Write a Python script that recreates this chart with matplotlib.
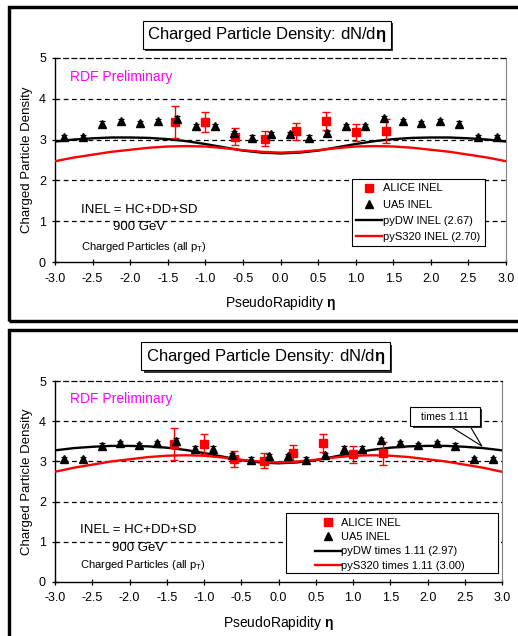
import matplotlib
matplotlib.use("Agg")
import matplotlib.pyplot as plt
import matplotlib.patheffects as pe
from matplotlib.patches import Rectangle

plt.rcParams['font.family'] = ['Liberation Sans', 'DejaVu Sans']
plt.rcParams['mathtext.fontset'] = 'custom'
plt.rcParams['mathtext.rm'] = 'Liberation Sans'
plt.rcParams['mathtext.it'] = 'Liberation Sans:italic'
plt.rcParams['mathtext.bf'] = 'Liberation Sans:bold'
plt.rcParams['axes.unicode_minus'] = False

# ---------------- data ----------------
ua5_eta = [-2.875, -2.625, -2.375, -2.125, -1.875, -1.625, -1.375, -1.125,
           -0.875, -0.625, -0.375, -0.125, 0.125, 0.375, 0.625, 0.875,
           1.125, 1.375, 1.625, 1.875, 2.125, 2.375, 2.625, 2.875]
ua5_val = [3.06, 3.06, 3.39, 3.45, 3.40, 3.45, 3.51, 3.32,
           3.32, 3.16, 3.04, 3.13, 3.13, 3.04, 3.16, 3.32,
           3.32, 3.52, 3.45, 3.40, 3.45, 3.39, 3.06, 3.06]
ua5_err = [0.06, 0.06, 0.06, 0.06, 0.06, 0.06, 0.06, 0.06,
           0.06, 0.06, 0.06, 0.06, 0.06, 0.06, 0.06, 0.06,
           0.06, 0.06, 0.06, 0.06, 0.06, 0.06, 0.06, 0.06]

alice_eta = [-1.4, -1.0, -0.6, -0.2, 0.2, 0.6, 1.0, 1.4]
alice_val = [3.43, 3.43, 3.07, 3.02, 3.20, 3.45, 3.18, 3.20]
alice_err = [0.40, 0.24, 0.20, 0.19, 0.21, 0.22, 0.21, 0.29]

curve_eta = [-3.0, -2.75, -2.5, -2.25, -2.0, -1.75, -1.5, -1.25, -1.0, -0.75,
             -0.5, -0.25, 0.0, 0.25, 0.5, 0.75, 1.0, 1.25, 1.5, 1.75,
             2.0, 2.25, 2.5, 2.75, 3.0]
pydw_val = [2.95, 3.00, 3.03, 3.05, 3.05, 3.04, 3.01, 2.96, 2.89, 2.81,
            2.73, 2.68, 2.66, 2.68, 2.73, 2.81, 2.89, 2.96, 3.01, 3.04,
            3.05, 3.05, 3.03, 3.00, 2.95]
pys320_val = [2.47, 2.56, 2.63, 2.70, 2.75, 2.80, 2.83, 2.84, 2.83, 2.79,
              2.74, 2.70, 2.68, 2.70, 2.74, 2.79, 2.83, 2.84, 2.83, 2.80,
              2.75, 2.70, 2.63, 2.56, 2.47]
scale_factor = 1.11

x_ticks = [-3.0, -2.5, -2.0, -1.5, -1.0, -0.5, 0.0, 0.5, 1.0, 1.5, 2.0, 2.5, 3.0]
y_ticks = [0, 1, 2, 3, 4, 5]

title_text = "Charged Particle Density: dN/d$\\mathbf{η}$"
xlabel_text = "PseudoRapidity $\\mathbf{η}$"
ylabel_text = "Charged Particle Density"

top_labels = ["ALICE INEL", "UA5 INEL", "pyDW INEL (2.67)", "pyS320 INEL (2.70)"]
bot_labels = ["ALICE INEL", "UA5 INEL", "pyDW times 1.11 (2.97)", "pyS320 times 1.11 (3.00)"]

# ---------------- figure ----------------
W, H = 518, 636
fig = plt.figure(figsize=(W / 100, H / 100), dpi=100)
fig.patch.set_facecolor('white')


def fig_rect(x0, y0, x1, y1):
    return [x0 / W, 1 - y1 / H, (x1 - x0) / W, (y1 - y0) / H]


# panel borders
fig.add_artist(Rectangle((8.5 / W, 1 - 321 / H), 600 / W, (321 - 6.5) / H,
                         transform=fig.transFigure, fill=False, lw=2.45,
                         ec='black', clip_on=False))
fig.add_artist(Rectangle((8.5 / W, -0.3), 600 / W, 0.3 + 1 - 330 / H,
                         transform=fig.transFigure, fill=False, lw=2.45,
                         ec='black', clip_on=False))

shadow = [pe.SimplePatchShadow(offset=(1.6, -1.6), shadow_rgbFace='#333333', alpha=1.0),
          pe.Normal()]


def draw_panel(ax, dw, s320, labels):
    ax.set_xlim(-3.0, 3.0)
    ax.set_ylim(0, 5)
    for y in y_ticks[1:-1]:
        ax.axhline(y, color='black', lw=0.9, dashes=(3.8, 2.8), zorder=1)
    ax.spines['top'].set_linestyle((0, (3.8, 2.8)))
    ax.spines['top'].set_linewidth(0.9)
    ax.spines['right'].set_color('#808080')
    ax.spines['left'].set_linewidth(1.0)
    ax.spines['bottom'].set_linewidth(1.0)

    l_dw, = ax.plot(curve_eta, dw, color='black', lw=1.7, zorder=3, label=labels[2])
    l_s3, = ax.plot(curve_eta, s320, color='#ff0000', lw=1.7, zorder=3, label=labels[3])

    ax.errorbar(alice_eta, alice_val, yerr=alice_err, fmt='none', ecolor='#ff0000',
                elinewidth=1.0, capsize=2.8, capthick=1.0, zorder=4)
    m_al, = ax.plot(alice_eta, alice_val, ls='none', marker='s', ms=5.8,
                    color='#ff0000', mec='#ff0000', zorder=5, label=labels[0])
    ax.errorbar(ua5_eta, ua5_val, yerr=ua5_err, fmt='none', ecolor='black',
                elinewidth=0.9, capsize=2.4, capthick=0.9, zorder=6)
    m_ua, = ax.plot(ua5_eta, ua5_val, ls='none', marker='^', ms=6.2,
                    color='black', zorder=7, label=labels[1])

    ax.set_xticks(x_ticks)
    ax.set_xticklabels([f"{t:.1f}" for t in x_ticks])
    ax.set_yticks(y_ticks)
    ax.tick_params(axis='both', direction='inout', length=5, width=0.9,
                   labelsize=9, colors='black')
    ax.tick_params(axis='y', pad=4)
    ax.tick_params(axis='x', pad=5)

    ax.set_xlabel(xlabel_text, fontsize=10)
    ax.xaxis.label.set_va('center')
    ax.set_ylabel(ylabel_text, fontsize=9.5)
    ax.yaxis.label.set_va('center')

    ax.text(-2.80, 4.54, "RDF Preliminary", color='#ff00ff', fontsize=10,
            ha='left', va='center')
    return [m_al, m_ua, l_dw, l_s3]


# ---- top panel ----
ax1 = fig.add_axes(fig_rect(55, 57.7, 506, 262.3))
h1 = draw_panel(ax1, pydw_val, pys320_val, top_labels)
ax1.xaxis.set_label_coords(0.5, (262.3 - 303.3) / 204.6)
ax1.yaxis.set_label_coords((27 - 55) / 451, 0.5)
ax1.text(-2.654, 1.28, "INEL = HC+DD+SD", fontsize=9.5, ha='left', va='center')
ax1.text(-2.23, 0.87, "900 GeV", fontsize=9.5, ha='left', va='center')
ax1.text(-2.654, 0.38, "Charged Particles (all p$_\\mathrm{T}$)", fontsize=8,
         ha='left', va='center')
leg1 = ax1.legend(handles=h1, loc='upper right', bbox_to_anchor=(0.953, 0.407),
                  borderaxespad=0, fontsize=8, handlelength=2.3, handletextpad=0.1,
                  borderpad=0.4, labelspacing=0.55, fancybox=False, framealpha=1,
                  edgecolor='black', numpoints=1)
leg1.get_frame().set_linewidth(0.8)

t1 = fig.text(267 / W, 1 - 34.5 / H, title_text, fontsize=12, ha='center', va='center',
              bbox=dict(boxstyle='square,pad=0.27', fc='white', ec='black', lw=0.8))
t1.get_bbox_patch().set_path_effects(shadow)

# ---- bottom panel ----
dw_scaled = [v * scale_factor for v in pydw_val]
s320_scaled = [v * scale_factor for v in pys320_val]
ax2 = fig.add_axes(fig_rect(55, 381, 502, 582))
h2 = draw_panel(ax2, dw_scaled, s320_scaled, bot_labels)
ax2.xaxis.set_label_coords(0.5, (582 - 623) / 201)
ax2.yaxis.set_label_coords((27 - 55) / 447, 0.5)
ax2.text(-2.66, 1.29, "INEL = HC+DD+SD", fontsize=9.5, ha='left', va='center')
ax2.text(-2.24, 0.84, "900 GeV", fontsize=9.5, ha='left', va='center')
ax2.text(-2.66, 0.42, "Charged Particles (all p$_\\mathrm{T}$)", fontsize=8,
         ha='left', va='center')

box2 = Rectangle(((286 - 55) / 447, (582 - 572.7) / 201), (497.7 - 286) / 447,
                 (572.7 - 513.3) / 201, transform=ax2.transAxes, fill=True,
                 fc='white', ec='black', lw=0.8, zorder=8)
ax2.add_patch(box2)
leg2 = ax2.legend(handles=h2, loc='upper left',
                  bbox_to_anchor=((315 - 55) / 447, (582 - 518) / 201),
                  borderaxespad=0, fontsize=8, handlelength=2.3, handletextpad=0.05,
                  borderpad=0, labelspacing=0.38, frameon=False, numpoints=1)
leg2.set_zorder(9)

t2 = fig.text(265.5 / W, 1 - 356.3 / H, title_text, fontsize=12, ha='center', va='center',
              bbox=dict(boxstyle='square,pad=0.27', fc='white', ec='black', lw=0.8))
t2.get_bbox_patch().set_path_effects(shadow)

# callout "times 1.11"
cbox = Rectangle((1.77, 3.88), 0.93, 0.47, fc='white', ec='black', lw=0.8, zorder=10)
cbox.set_path_effects(shadow)
ax2.add_patch(cbox)
ax2.text(2.235, 4.11, "times 1.11", fontsize=7.5, ha='center', va='center', zorder=11)
ax2.plot([2.30, 2.73, 2.57], [3.88, 3.38, 3.88], color='black', lw=0.8, zorder=9)

fig.savefig("out.png", dpi=100, facecolor='white')
